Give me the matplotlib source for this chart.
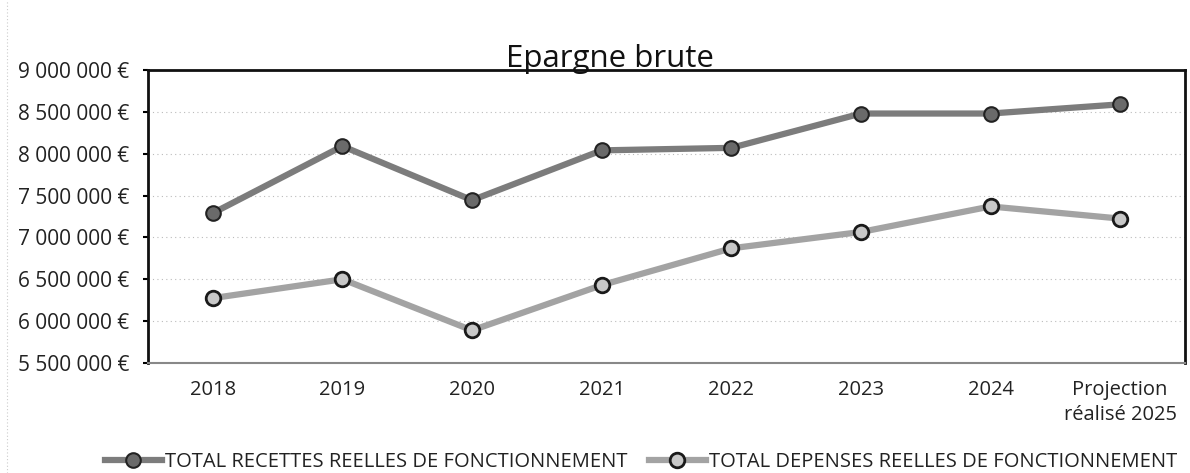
import matplotlib
matplotlib.use("Agg")
import matplotlib.pyplot as plt
from matplotlib.lines import Line2D
from matplotlib.ticker import FuncFormatter, MultipleLocator

# données
categories = ["2018", "2019", "2020", "2021", "2022", "2023", "2024",
              "Projection\nréalisé 2025"]
recettes = [7290000, 8090000, 7445000, 8040000, 8070000, 8480000, 8480000, 8590000]
depenses = [6275000, 6500000, 5890000, 6430000, 6870000, 7065000, 7370000, 7225000]

plt.rcParams['font.family'] = ['Open Sans', 'DejaVu Sans']

W, H = 1190, 473
fig = plt.figure(figsize=(W / 100, H / 100), dpi=100)
ax = fig.add_axes([148 / W, 1 - 363 / H, (1185 - 148) / W, (363 - 70) / H])

x = range(len(categories))
ax.plot(x, recettes, color='#7c7c7c', lw=4.5, marker='o', ms=10.5,
        mfc='#6a6a6a', mec='#222222', mew=1.5,
        label="TOTAL RECETTES REELLES DE FONCTIONNEMENT", zorder=3)
ax.plot(x, depenses, color='#a3a3a3', lw=4.5, marker='o', ms=10.5,
        mfc='#c8c8c8', mec='#1a1a1a', mew=2,
        label="TOTAL DEPENSES REELLES DE FONCTIONNEMENT", zorder=3)

ax.set_xlim(-0.5, len(categories) - 0.5)
ax.set_ylim(5500000, 9000000)
ax.yaxis.set_major_locator(MultipleLocator(500000))
ax.yaxis.set_major_formatter(FuncFormatter(
    lambda v, p: f"{int(v):,}".replace(",", " ") + " €"))
ax.set_xticks(list(x))
ax.set_xticklabels(categories, fontsize=14.5, color='#222222', linespacing=1.35)
ax.tick_params(axis='x', length=0, pad=12)
ax.tick_params(axis='y', labelsize=15, labelcolor='#222222', length=3.6,
               width=1.5, direction='out', pad=10)

ax.grid(axis='y', color='#bbbbbb', linestyle=(0, (1, 3)), lw=0.8)
ax.set_axisbelow(True)

for side in ['left', 'top', 'right']:
    ax.spines[side].set_color('#111111')
    ax.spines[side].set_linewidth(2)
ax.spines['bottom'].set_color('#888888')
ax.spines['bottom'].set_linewidth(1.5)

# titre posé sur le bord haut
fig.text(610 / W, 1 - 67 / H, "Epargne brute", fontsize=22.5,
         ha='center', va='baseline', color='#111111')

fig.legend(loc='center', bbox_to_anchor=(641 / W, 1 - 462 / H), ncol=2,
           frameon=False, fontsize=14.5, handlelength=2.8, handletextpad=0.15,
           columnspacing=1.1, labelcolor='#222222', borderaxespad=0,
           borderpad=0)

# bord pointillé de la page scannée
fig.add_artist(Line2D([7 / W, 7 / W], [0, 1], transform=fig.transFigure,
                      color='#cccccc', lw=0.8, linestyle=(0, (1, 2))))

fig.savefig("out.png", dpi=100)
